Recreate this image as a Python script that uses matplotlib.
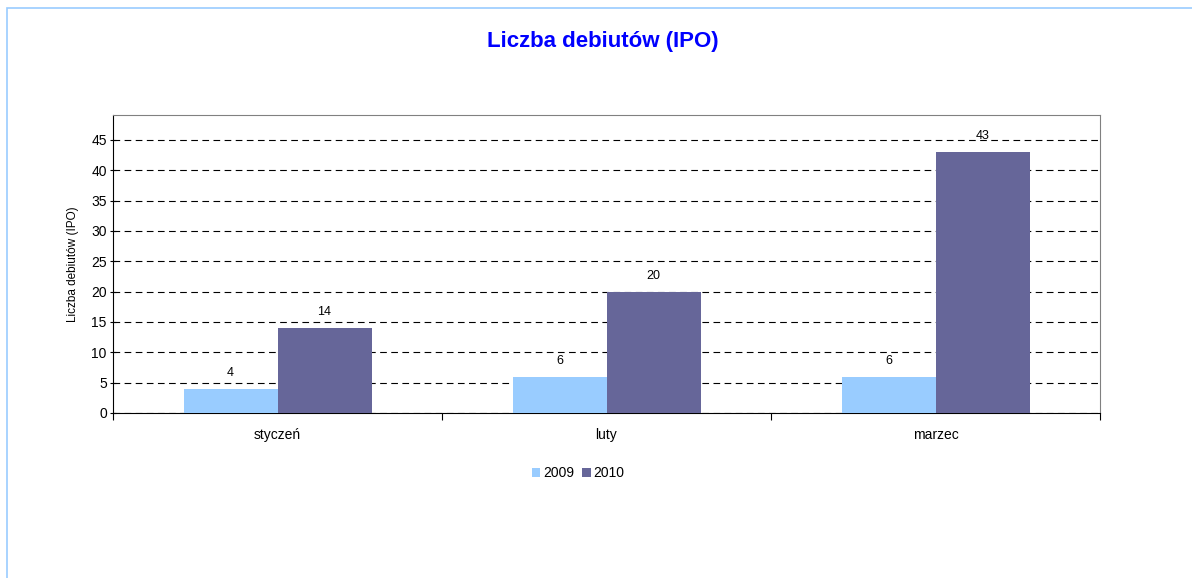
import matplotlib
matplotlib.use("Agg")
import matplotlib.pyplot as plt
import numpy as np
from matplotlib.patches import Rectangle

categories = ["styczeń", "luty", "marzec"]
series_names = ["2009", "2010"]
values_2009 = [4, 6, 6]
values_2010 = [14, 20, 43]
yticks = [0, 5, 10, 15, 20, 25, 30, 35, 40, 45]

plt.rcParams['font.family'] = ['Liberation Sans', 'DejaVu Sans']

W, H = 1192, 578
fig = plt.figure(figsize=(W / 100, H / 100), dpi=100)
fig.patches.append(Rectangle((7 / W, -0.1), 1.2, 1 - 8 / H + 0.1, transform=fig.transFigure,
                             fill=False, edgecolor="#99CCFF", linewidth=1.2))

left, right, top, bottom = 113, 1100, 115, 413
ax = fig.add_axes([left / W, 1 - bottom / H, (right - left) / W, (bottom - top) / H])

x = np.arange(len(categories))
bw = 94 / 329
b1 = ax.bar(x - bw / 2, values_2009, bw, color="#99CCFF", label=series_names[0], zorder=3)
b2 = ax.bar(x + bw / 2, values_2010, bw, color="#666699", label=series_names[1], zorder=3)
for bars in (b1, b2):
    for r in bars:
        ax.annotate(f"{int(r.get_height())}", (r.get_x() + r.get_width() / 2, r.get_height()),
                    xytext=(0, 7), textcoords="offset points", ha="center", va="bottom",
                    fontsize=9, zorder=4)

ax.set_xlim(-0.5, len(categories) - 0.5)
ax.set_ylim(0, 49.1)
ax.set_yticks(yticks)
ax.yaxis.grid(True, linestyle=(0, (6, 4)), color="black", linewidth=0.8, zorder=0)
ax.set_xticks(np.arange(-0.5, len(categories), 1.0), minor=False)
ax.set_xticklabels([])
ax.set_xticks(x, minor=True)
ax.set_xticklabels(categories, minor=True, fontsize=10)
ax.tick_params(axis="x", which="minor", length=0, pad=11)
ax.tick_params(axis="x", which="major", length=5, direction="out", color="black")
ax.tick_params(axis="y", length=5, direction="inout", labelsize=10, pad=2)
ax.set_ylabel("Liczba debiutów (IPO)", fontsize=8.5, labelpad=9)

for s in ("top", "right"):
    ax.spines[s].set_color("#808080")
for s in ("left", "bottom"):
    ax.spines[s].set_color("black")

fig.text(603 / W, 1 - 42 / H, "Liczba debiutów (IPO)", ha="center", va="center",
         fontsize=16, fontweight="bold", color="#0000FF")

fig.legend(handles=[b1, b2], labels=series_names, loc="center", bbox_to_anchor=(578 / W, 1 - 473 / H),
           ncol=2, frameon=False, fontsize=10, handlelength=0.6, handleheight=0.6,
           handletextpad=0.2, columnspacing=0.6)

fig.savefig("out.png", dpi=100)
